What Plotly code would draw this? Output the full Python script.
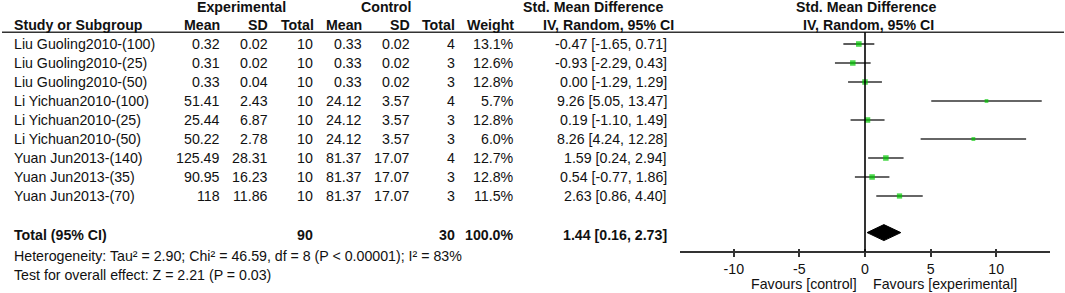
import plotly.graph_objects as go

# ---------------- data ----------------
studies = ["Liu Guoling2010-(100)", "Liu Guoling2010-(25)", "Liu Guoling2010-(50)",
           "Li Yichuan2010-(100)", "Li Yichuan2010-(25)", "Li Yichuan2010-(50)",
           "Yuan Jun2013-(140)", "Yuan Jun2013-(35)", "Yuan Jun2013-(70)"]
exp_mean = [0.32, 0.31, 0.33, 51.41, 25.44, 50.22, 125.49, 90.95, 118]
exp_sd = [0.02, 0.02, 0.04, 2.43, 6.87, 2.78, 28.31, 16.23, 11.86]
exp_n = [10, 10, 10, 10, 10, 10, 10, 10, 10]
ctl_mean = [0.33, 0.33, 0.33, 24.12, 24.12, 24.12, 81.37, 81.37, 81.37]
ctl_sd = [0.02, 0.02, 0.02, 3.57, 3.57, 3.57, 17.07, 17.07, 17.07]
ctl_n = [4, 3, 3, 4, 3, 3, 4, 3, 3]
weight = [13.1, 12.6, 12.8, 5.7, 12.8, 6.0, 12.7, 12.8, 11.5]
smd = [-0.47, -0.93, 0.00, 9.26, 0.19, 8.26, 1.59, 0.54, 2.63]
ci_lo = [-1.65, -2.29, -1.29, 5.05, -1.10, 4.24, 0.24, -0.77, 0.86]
ci_hi = [0.71, 0.43, 1.29, 13.47, 1.49, 12.28, 2.94, 1.86, 4.40]

total_exp = 90
total_ctl = 30
total_weight = 100.0
total_smd = 1.44
total_lo = 0.16
total_hi = 2.73

heterogeneity = "Heterogeneity: Tau² = 2.90; Chi² = 46.59, df = 8 (P < 0.00001); I² = 83%"
overall = "Test for overall effect: Z = 2.21 (P = 0.03)"
tick_vals = [-10, -5, 0, 5, 10]
tick_text = ["-10", "-5", "0", "5", "10"]
fav_left = "Favours [control]"
fav_right = "Favours [experimental]"

# ---------------- layout helpers ----------------
W, H = 1065, 293
Y0, DY = 44, 19          # pixel y of first row, row spacing


def row_of(px):
    return (px - Y0) / DY


def xp(px):
    return px / W


FONT = "Liberation Sans, Arial, sans-serif"
FS = 14.2
TXT = "#111111"
LINE = "#333333"
GREEN = "#00c800"

rows = list(range(len(studies)))
total_row = row_of(234.5)
axis_row = row_of(251.7)

fig = go.Figure()

# CI lines
cx, cy = [], []
for r, lo, hi in zip(rows, ci_lo, ci_hi):
    cx += [lo, hi, None]
    cy += [r, r, None]
fig.add_trace(go.Scatter(x=cx, y=cy, mode="lines", xaxis="x2", yaxis="y",
                         line=dict(color=LINE, width=1.6), hoverinfo="skip",
                         showlegend=False))
# point estimates (square size ~ weight)
fig.add_trace(go.Scatter(x=smd, y=rows, mode="markers", xaxis="x2", yaxis="y",
                         marker=dict(symbol="square", color=GREEN,
                                     size=[1.55 * w ** 0.5 for w in weight],
                                     line=dict(width=0)),
                         showlegend=False))
# pooled diamond
dh = 0.42
drow = total_row - 0.1
fig.add_trace(go.Scatter(x=[total_lo, total_smd, total_hi, total_smd, total_lo],
                         y=[drow, drow - dh, drow, drow + dh, drow],
                         mode="lines", fill="toself", fillcolor="black",
                         line=dict(color="black", width=1), xaxis="x2", yaxis="y",
                         showlegend=False, hoverinfo="skip"))
# dummy trace for overlay tick axis
fig.add_trace(go.Scatter(x=[0], y=[axis_row], mode="markers", xaxis="x3", yaxis="y",
                         marker=dict(opacity=0), showlegend=False, hoverinfo="skip"))

ann = []


def txt(xpx, y, text, anchor="right", bold=False, yref="y"):
    if bold:
        text = "<b>" + text + "</b>"
    if yref == "paper":
        y = 1 - y / H
    ann.append(dict(x=xp(xpx), y=y, xref="paper", yref=yref, text=text,
                    xanchor=anchor, yanchor="middle", showarrow=False,
                    borderpad=0,
                    font=dict(family=FONT, size=FS, color=TXT)))


# header
txt(241, 7, "Experimental", "center", True, "paper")
txt(386, 7, "Control", "center", True, "paper")
txt(592.5, 7, "Std. Mean Difference", "center", True, "paper")
txt(866, 7, "Std. Mean Difference", "center", True, "paper")
hy = 25.5
txt(13, hy, "Study or Subgroup", "left", True, "paper")
txt(221, hy, "Mean", "right", True, "paper")
txt(269, hy, "SD", "right", True, "paper")
txt(315, hy, "Total", "right", True, "paper")
txt(362.5, hy, "Mean", "right", True, "paper")
txt(410.5, hy, "SD", "right", True, "paper")
txt(456, hy, "Total", "right", True, "paper")
txt(515, hy, "Weight", "right", True, "paper")
txt(608, hy, "IV, Random, 95% CI", "center", True, "paper")
txt(868.5, hy, "IV, Random, 95% CI", "center", True, "paper")

# study rows
for r in rows:
    txt(13, r, studies[r], "left")
    txt(221, r, f"{exp_mean[r]:g}")
    txt(269, r, f"{exp_sd[r]:g}")
    txt(314, r, f"{exp_n[r]}")
    txt(362.5, r, f"{ctl_mean[r]:g}")
    txt(410.5, r, f"{ctl_sd[r]:g}")
    txt(456, r, f"{ctl_n[r]}")
    txt(515, r, f"{weight[r]:.1f}%")
    txt(668, r, f"{smd[r]:.2f} [{ci_lo[r]:.2f}, {ci_hi[r]:.2f}]")

# total row
txt(13, total_row, "Total (95% CI)", "left", True)
txt(314, total_row, f"{total_exp}", "right", True)
txt(456, total_row, f"{total_ctl}", "right", True)
txt(515, total_row, f"{total_weight:.1f}%", "right", True)
txt(668, total_row, f"{total_smd:.2f} [{total_lo:.2f}, {total_hi:.2f}]", "right", True)

txt(13, 256, heterogeneity, "left", False, "paper")
txt(13, 275, overall, "left", False, "paper")
txt(857.5, 284, fav_left, "right", False, "paper")
txt(872.5, 284, fav_right, "left", False, "paper")

header_row = row_of(32.3)
shapes = [
    dict(type="line", xref="paper", yref="y", x0=xp(2), x1=xp(1064),
         y0=header_row, y1=header_row, line=dict(color=LINE, width=1.6)),
    dict(type="line", xref="x2", yref="y", x0=0, x1=0,
         y0=header_row, y1=axis_row, line=dict(color="black", width=1.6)),
]

xdom = [680 / W, 1050 / W]
xrange = [-14.1, 14.1]
axis_pos = 1 - 251.7 / H

fig.update_layout(
    width=W, height=H,
    margin=dict(l=0, r=0, t=0, b=0),
    paper_bgcolor="white", plot_bgcolor="rgba(0,0,0,0)",
    showlegend=False,
    annotations=ann, shapes=shapes,
    xaxis=dict(visible=False, domain=[0, 1], range=[0, W]),
    yaxis=dict(visible=False, domain=[0, 1],
               range=[row_of(H), row_of(0)], fixedrange=True),
    xaxis2=dict(domain=xdom, range=xrange, anchor="free", position=axis_pos,
                showline=True, linecolor=LINE, linewidth=1.6,
                ticks="outside", ticklen=4, tickwidth=1.6, tickcolor=LINE,
                tickmode="array", tickvals=tick_vals, ticktext=tick_text,
                tickfont=dict(family=FONT, size=FS, color=TXT),
                showgrid=False, zeroline=False),
    xaxis3=dict(domain=xdom, range=xrange, anchor="free", position=axis_pos,
                overlaying="x2", matches="x2",
                showline=False, ticks="inside", ticklen=3, tickwidth=1.6,
                tickcolor=LINE, tickmode="array", tickvals=tick_vals,
                showticklabels=False, showgrid=False, zeroline=False),
)

fig.write_html("out.html",
               config={"displayModeBar": False},
               post_script="document.body.style.margin='0';"
                           "document.body.style.overflow='hidden';")
